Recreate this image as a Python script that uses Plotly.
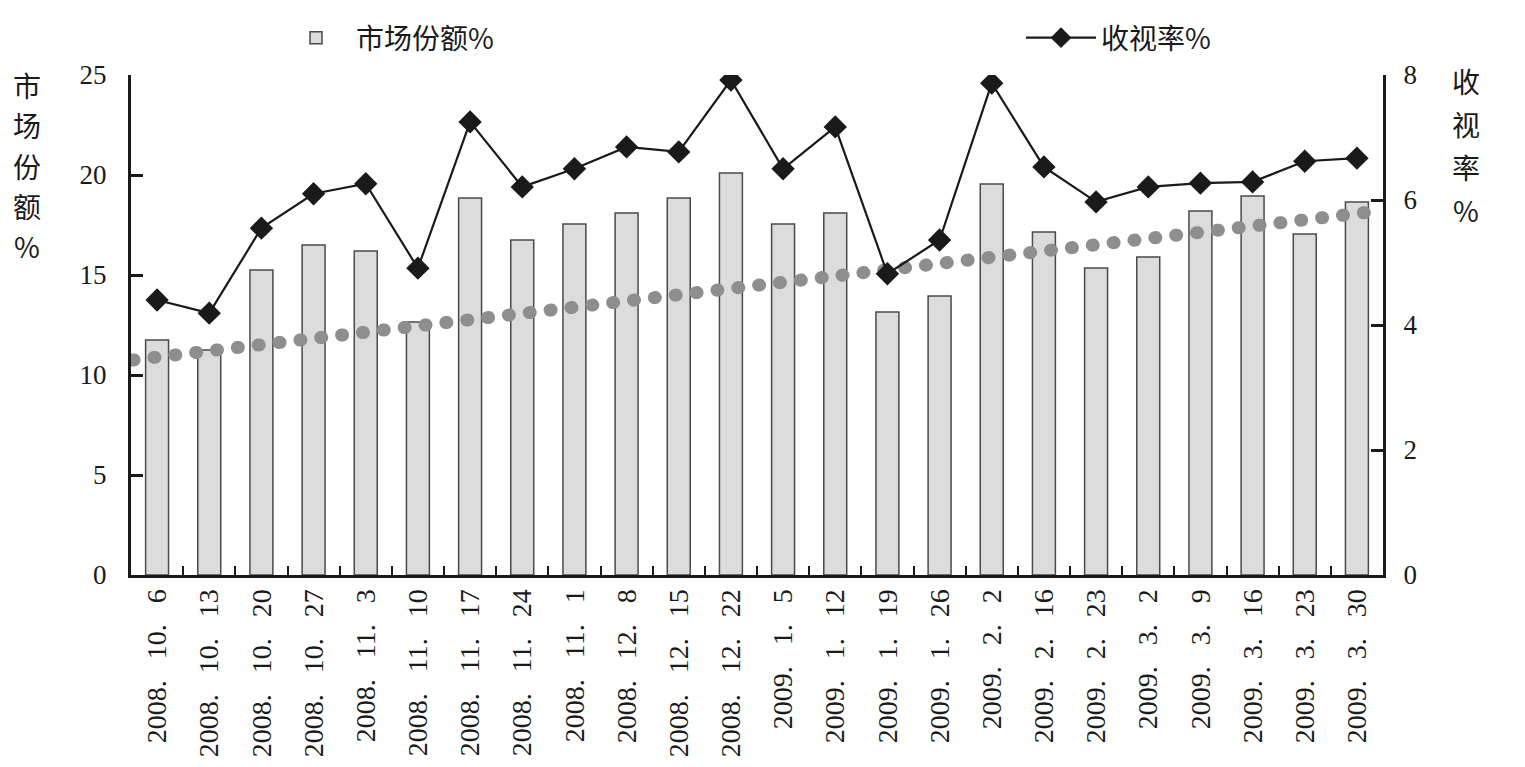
import numpy as np
import plotly.graph_objects as go

categories = ["2008. 10. 6", "2008. 10. 13", "2008. 10. 20", "2008. 10. 27", "2008. 11. 3",
              "2008. 11. 10", "2008. 11. 17", "2008. 11. 24", "2008. 11. 1", "2008. 12. 8",
              "2008. 12. 15", "2008. 12. 22", "2009. 1. 5", "2009. 1. 12", "2009. 1. 19",
              "2009. 1. 26", "2009. 2. 2", "2009. 2. 16", "2009. 2. 23", "2009. 3. 2",
              "2009. 3. 9", "2009. 3. 16", "2009. 3. 23", "2009. 3. 30"]
market_share = [11.75, 11.25, 15.25, 16.5, 16.2, 12.65, 18.85, 16.75, 17.55, 18.1,
                18.85, 20.1, 17.55, 18.1, 13.15, 13.95, 19.55, 17.15, 15.35, 15.9,
                18.2, 18.95, 17.05, 18.65]
rating = [4.4, 4.19, 5.55, 6.1, 6.26, 4.91, 7.25, 6.21, 6.5, 6.85,
          6.77, 7.92, 6.5, 7.17, 4.82, 5.36, 7.87, 6.53, 5.97, 6.21,
          6.27, 6.29, 6.62, 6.67]
trend_x = [-0.46, 23.27]
trend_y = [3.44, 5.81]
left_ticks = [0, 5, 10, 15, 20, 25]
right_ticks = [0, 2, 4, 6, 8]

NUM_FONT = "Liberation Serif"
CJK_FONT = "Noto Sans CJK SC"
W, H = 1525, 767
ML, MR, MT, MB = 131, 142, 75, 192
PW, PH = W - ML - MR, H - MT - MB

tick_text = [c.replace(". ", ".\u2002 ") for c in categories]

fig = go.Figure()
fig.add_trace(go.Bar(
    x=categories, y=market_share, name="市场份额%", legend="legend",
    marker=dict(color="#dcdcdc", line=dict(color="#4a4a4a", width=1.5)),
    xaxis="x", yaxis="y"))
fig.add_trace(go.Scatter(
    x=trend_x, y=trend_y, mode="lines", showlegend=False,
    line=dict(color="#8e8e8e", width=13, dash="1px,20px"),
    xaxis="x2", yaxis="y2"))
fig.add_trace(go.Scatter(
    x=list(np.arange(len(categories))), y=rating, name="收视率%", legend="legend2",
    mode="lines+markers",
    line=dict(color="#1a1a1a", width=2.2),
    marker=dict(symbol="diamond", size=18, color="#1a1a1a"),
    xaxis="x2", yaxis="y2"))

axis_common = dict(showline=True, linecolor="#1a1a1a", linewidth=3, showgrid=False,
                   zeroline=False, ticks="inside", tickcolor="#1a1a1a")

legend_common = dict(orientation="h", xref="container", yref="container",
                     y=1 - 38 / H, xanchor="left", yanchor="middle",
                     font=dict(family=CJK_FONT, size=28), itemwidth=70,
                     bgcolor="rgba(0,0,0,0)")

fig.update_layout(
    width=W, height=H,
    margin=dict(l=ML, r=MR, t=MT, b=MB, autoexpand=False),
    paper_bgcolor="white", plot_bgcolor="white",
    bargap=0.56,
    font=dict(family=NUM_FONT, color="#1a1a1a"),
    xaxis=dict(type="category", tickson="boundaries", tickangle=-90,
               ticklen=9, tickwidth=2,
               tickmode="array", tickvals=categories, ticktext=tick_text,
               tickfont=dict(family=NUM_FONT, size=28),
               range=[-0.5, len(categories) - 0.5], **axis_common),
    xaxis2=dict(overlaying="x", range=[-0.5, len(categories) - 0.5], visible=False),
    yaxis=dict(range=[0, 25], tickvals=left_ticks, ticklen=12, tickwidth=2.5,
               tickfont=dict(family=NUM_FONT, size=27), ticklabelstandoff=16,
               **axis_common),
    yaxis2=dict(overlaying="y", side="right", range=[0, 8], tickvals=right_ticks,
                ticklen=12, tickwidth=2.5, ticklabelstandoff=12,
                tickfont=dict(family=NUM_FONT, size=27), **axis_common),
    legend=dict(x=276 / W, **legend_common),
    legend2=dict(x=1021 / W, **legend_common),
    showlegend=True,
)


def stacked(chars, size):
    return "<br>".join(f"<span style='font-size:{size}px'>{c}</span>" for c in chars)


fig.add_annotation(text=stacked("市场份额%", 28), xref="paper", yref="paper",
                   x=(27 - ML) / PW, y=1 + 12 / PH, xanchor="center", yanchor="top",
                   showarrow=False, font=dict(family=CJK_FONT, size=31))
fig.add_annotation(text=stacked("收视率%", 28), xref="paper", yref="paper",
                   x=(1466 - ML) / PW, y=1 + 16 / PH, xanchor="center", yanchor="top",
                   showarrow=False, font=dict(family=CJK_FONT, size=33))

post = """
document.body.style.margin = '0';
document.querySelectorAll('.scatterlayer .trace path.js-line').forEach(function(p){
  if ((p.style.strokeDasharray || '').indexOf('20') >= 0) { p.style.strokeLinecap = 'round'; }
});
"""
fig.write_html("out.html", post_script=post, config={"displayModeBar": False})
